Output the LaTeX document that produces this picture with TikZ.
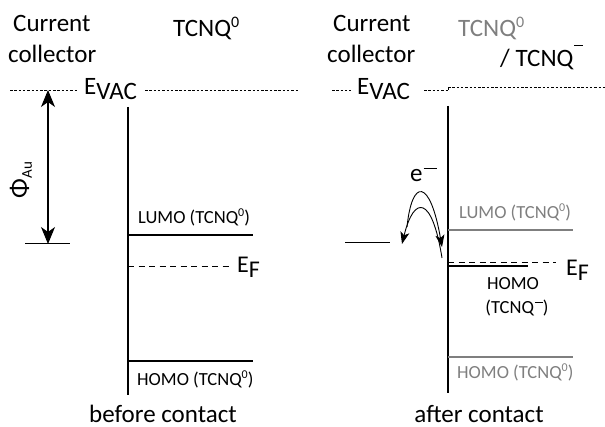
\documentclass[tikz,border=0pt]{standalone}
\usepackage{fontspec}
\setmainfont{Carlito}
\usetikzlibrary{arrows.meta}
\definecolor{lvlgray}{HTML}{7F7F7F}
\newcommand{\mbar}[2]{\hspace{1pt}\raisebox{#1}{\rule{#2}{1.3pt}}}
\begin{document}
\begin{tikzpicture}[x=1pt,y=-1pt,
  big/.style={font=\fontsize{25}{30}\selectfont, inner sep=0pt, anchor=base west},
  lvlfont/.style={font=\fontsize{18.5}{22}\selectfont, inner sep=0pt},
  small/.style={lvlfont, anchor=base west},
  vacline/.style={line width=0.9pt, dash pattern=on 2.5pt off 1.8pt},
  fermiline/.style={line width=0.9pt, dash pattern=on 6pt off 4.5pt},
  axisline/.style={line width=2pt},
  level/.style={line width=1.6pt},
  thinline/.style={line width=1pt},
  bigarrow/.style={line width=1.1pt, {Stealth[length=17pt,width=14pt,inset=5pt]}-{Stealth[length=17pt,width=14pt,inset=5pt]}},
  transfer/.style={line width=0.9pt, -{Stealth[length=12pt,width=9pt,inset=3pt]}}]
\useasboundingbox (0,0) rectangle (605,427);

% ---------- before contact ----------
\node[big] (curL) at (13,32) {Current};
\node[big] (colL) at (8,63) {collector};
\node[big] (tcnqL) at (173,37) {TCNQ\raisebox{9pt}{\fontsize{16}{18}\selectfont 0}};
\node[big] (evacL) at (84,95) {E\raisebox{-5pt}{VAC}};
\coordinate (vL1a) at (10,90);
\coordinate (vL1b) at (78,90);
\coordinate (vL2a) at (145,90);
\coordinate (vL2b) at (298,90);
\draw[vacline] (vL1a) -- (vL1b);
\draw[vacline] (vL2a) -- (vL2b);

\coordinate (axLtop) at (128,107);
\coordinate (axLbot) at (128,395);
\draw[axisline] (axLtop) -- (axLbot);

\coordinate (phiTop) at (48,90);
\coordinate (phiBot) at (48,244);
\draw[bigarrow] (phiTop) -- (phiBot);
\coordinate (auA) at (25,244);
\coordinate (auB) at (70,244);
\draw[thinline] (auA) -- (auB);
\node[font=\fontsize{26}{30}\selectfont, inner sep=0pt, rotate=90] (phi) at (21,180) {Φ\raisebox{-4pt}{\fontsize{15}{18}\selectfont Au}};

\coordinate (lumoLa) at (128,235);
\coordinate (lumoLb) at (253,235);
\draw[level] (lumoLa) -- (lumoLb);
\node[small] (lumoLt) at (138,224) {LUMO (TCNQ\raisebox{7pt}{\fontsize{12}{14}\selectfont 0})};

\coordinate (efLa) at (128,266);
\coordinate (efLb) at (229,266);
\draw[fermiline] (efLa) -- (efLb);
\node[font=\fontsize{24}{28}\selectfont, inner sep=0pt, anchor=base west] (efL) at (237,273) {E\raisebox{-5pt}{F}};

\coordinate (homoLa) at (128,361);
\coordinate (homoLb) at (253,361);
\draw[level] (homoLa) -- (homoLb);
\node[small] (homoLt) at (137,385) {HOMO (TCNQ\raisebox{7pt}{\fontsize{12}{14}\selectfont 0})};

\node[big, anchor=base] (before) at (163,422) {before contact};

% ---------- after contact ----------
\node[big] (curR) at (333,32) {Current};
\node[big] (colR) at (327,63) {collector};
\node[big, text=lvlgray] (tcnqR) at (458,37) {TCNQ\raisebox{9pt}{\fontsize{16}{18}\selectfont 0}};
\node[big] (tcnqRm) at (500,67) {/ TCNQ\mbar{21pt}{9pt}};
\node[big] (evacR) at (357,95) {E\raisebox{-5pt}{VAC}};
\coordinate (vR1a) at (332,90);
\coordinate (vR1b) at (351,90);
\coordinate (vR2a) at (424,90);
\coordinate (vR2b) at (448,90);
\coordinate (vR3a) at (448,87);
\coordinate (vR3b) at (605,87);
\draw[vacline] (vR1a) -- (vR1b);
\draw[vacline] (vR2a) -- (vR2b);
\draw[thinline] (vR2b) -- (vR3a);
\draw[vacline] (vR3a) -- (vR3b);

\coordinate (axRtop) at (448,106);
\coordinate (axRbot) at (448,393);
\draw[axisline] (axRtop) -- (axRbot);

\coordinate (lumoRa) at (448,230);
\coordinate (lumoRb) at (573,230);
\draw[level, draw=lvlgray] (lumoRa) -- (lumoRb);
\node[small, text=lvlgray] (lumoRt) at (459,219) {LUMO (TCNQ\raisebox{7pt}{\fontsize{12}{14}\selectfont 0})};

\coordinate (efRa) at (448,262);
\coordinate (efRb) at (556,262);
\draw[fermiline] (efRa) -- (efRb);
\node[font=\fontsize{24}{28}\selectfont, inner sep=0pt, anchor=base west] (efR) at (566,276) {E\raisebox{-5pt}{F}};

\coordinate (homoMa) at (448,266);
\coordinate (homoMb) at (528,266);
\draw[level] (homoMa) -- (homoMb);
\node[lvlfont, anchor=base] (homoMt1) at (513,290) {HOMO};
\node[lvlfont, anchor=base] (homoMt2) at (517,314) {(TCNQ\mbar{11pt}{8pt})};

\coordinate (homoRa) at (448,357);
\coordinate (homoRb) at (573,357);
\draw[level, draw=lvlgray] (homoRa) -- (homoRb);
\node[small, text=lvlgray] (homoRt) at (457,379) {HOMO (TCNQ\raisebox{7pt}{\fontsize{12}{14}\selectfont 0})};

\coordinate (auRa) at (345,243);
\coordinate (auRb) at (390,243);
\draw[thinline] (auRa) -- (auRb);

\node[big] (elec) at (410,182) {e\mbar{13pt}{13pt}};
\coordinate (t1s) at (407,227);
\coordinate (t1e) at (442,247);
\coordinate (t2s) at (442,258);
\coordinate (t2e) at (402,244);
\draw[transfer] (t1s) .. controls (412,178) and (430,178) .. (t1e);
\draw[transfer] (t2s) .. controls (432,195) and (414,195) .. (t2e);

\node[big, anchor=base] (after) at (479,422) {after contact};
\end{tikzpicture}
\end{document}
